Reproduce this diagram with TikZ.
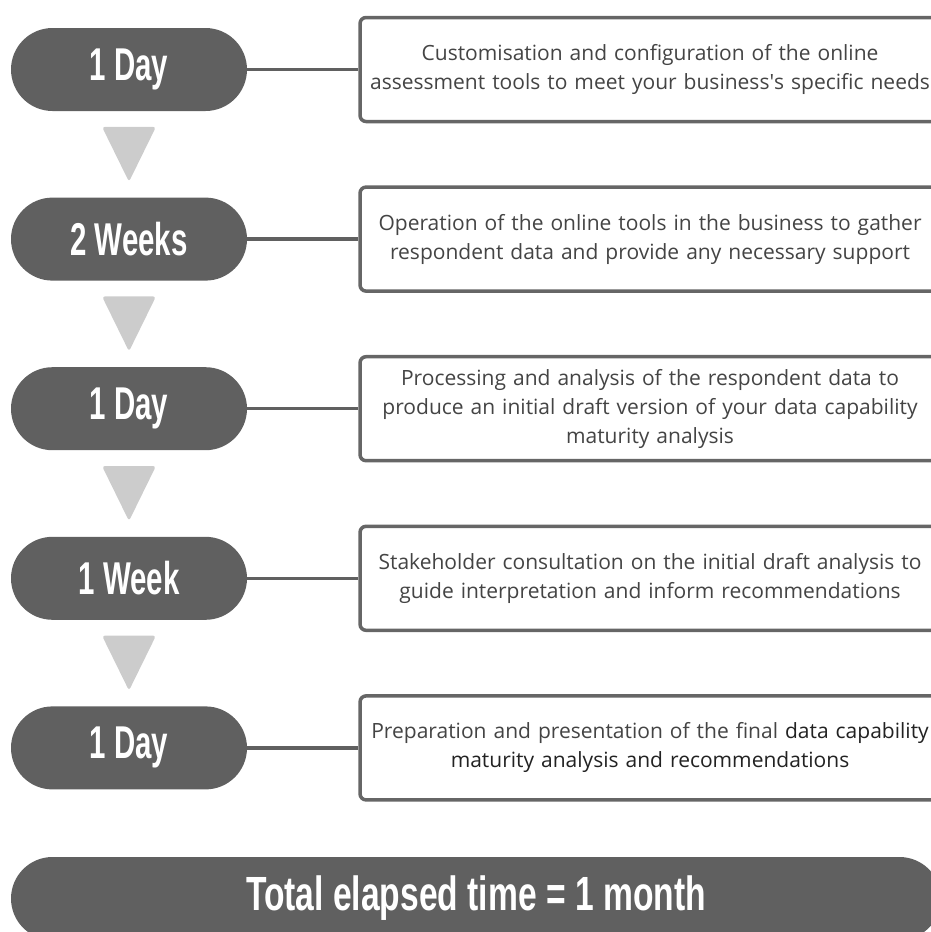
\documentclass[tikz,border=0pt]{standalone}
\usepackage{fontspec}
\setmainfont{Open Sans}
\newfontfamily\pillfont[FakeStretch=0.64]{Liberation Sans}
\newfontfamily\totalfont[FakeStretch=0.7]{Liberation Sans}
\usepackage{tikz}
\usetikzlibrary{positioning, calc, shapes.misc}
\definecolor{pillgray}{HTML}{606060}
\definecolor{framegray}{HTML}{666666}
\definecolor{trigray}{HTML}{CCCCCC}
\definecolor{bodytxt}{HTML}{444444}
\definecolor{darktxt}{HTML}{222222}

\begin{document}
\begin{tikzpicture}[x=1pt,y=1pt,-,semithick,
     pill/.style={rounded rectangle, fill=pillgray, text=white, inner sep=0pt,
       minimum width=236pt, minimum height=83pt,
       font=\pillfont\bfseries\fontsize{46}{46}\selectfont},
     stepbox/.style={draw=framegray, line width=3.5pt, rounded corners=6pt, fill=white,
       minimum width=580pt, minimum height=104pt, text width=580pt, align=center,
       inner xsep=0pt, inner ysep=7pt, text=bodytxt, font=\fontsize{21}{29}\selectfont},
     conn/.style={draw=pillgray, line width=3.5pt},
     tri/.style={fill=trigray, rounded corners=3pt},
     total/.style={pill, minimum width=930pt,
       font=\totalfont\bfseries\fontsize{48}{48}\selectfont}]

  \useasboundingbox (0,0) rectangle (931,-932);
  \clip (0,0) rectangle (931,-932);

  \node[pill] (p1) at (129,-69.5) {1 Day};
  \node[pill, below=86pt of p1] (p2) {2 Weeks};
  \node[pill, below=86pt of p2] (p3) {1 Day};
  \node[pill, below=86pt of p3] (p4) {1 Week};
  \node[pill, below=86pt of p4] (p5) {1 Day};

  \node[stepbox, right=111pt of p1] (b1) {Customisation and configuration of the online\\assessment tools to meet your business\textquotesingle s specific needs};
  \node[stepbox, right=111pt of p2] (b2) {Operation of the online tools in the business to gather\\respondent data and provide any necessary support};
  \node[stepbox, right=111pt of p3] (b3) {Processing and analysis of the respondent data to\\produce an initial draft version of your data capability\\maturity analysis};
  \node[stepbox, right=111pt of p4] (b4) {Stakeholder consultation on the initial draft analysis to\\guide interpretation and inform recommendations};
  \node[stepbox, right=111pt of p5] (b5) {Preparation and presentation of the final {\color{darktxt}data capability}\\{\color{darktxt}maturity analysis and recommendations}};

  \foreach \i in {1,...,5}
   \path[conn] (p\i.east) edge (b\i.west);

  \foreach \i/\j in {1/2,2/3,3/4,4/5}
   \fill[tri] ($(p\i.south)!0.5!(p\j.north)$) ++(-27,27.5) -- ++(54,0) -- ++(-27,-55) -- cycle;

  \node[total] (tot) at (476,-898.5) {Total elapsed time = 1 month};
\end{tikzpicture}
\end{document}
